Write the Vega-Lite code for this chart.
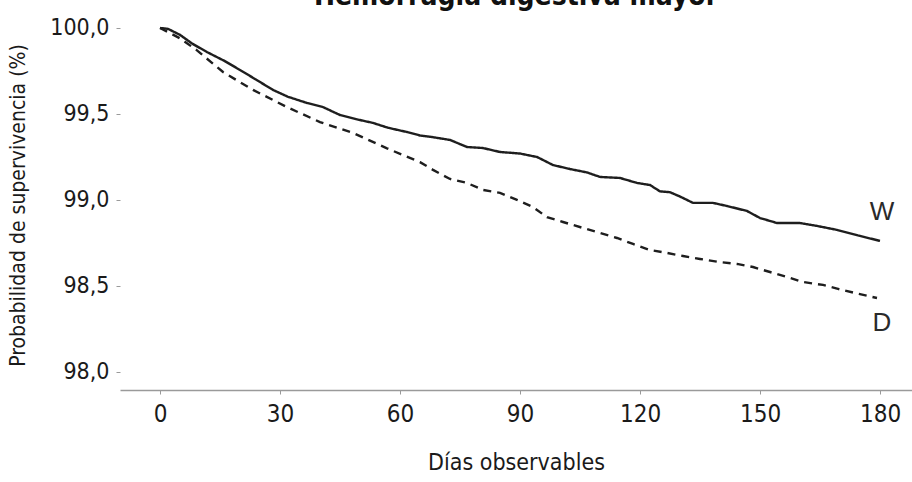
{
  "$schema": "https://vega.github.io/schema/vega-lite/v6.json",
  "width": 792,
  "height": 370,
  "autosize": {"type": "none"},
  "padding": {"left": 120, "top": 20, "right": 0, "bottom": 92},
  "background": "white",
  "title": {
    "text": "Hemorragia digestiva mayor",
    "font": "'Liberation Sans Narrow', 'DejaVu Sans Condensed', 'Roboto Condensed', Roboto, sans-serif",
    "fontSize": 28,
    "fontWeight": "bold",
    "color": "#111",
    "anchor": "middle",
    "frame": "group",
    "baseline": "alphabetic",
    "offset": 6,
    "dy": 22
  },
  "config": {
    "view": {"stroke": null},
    "axis": {"grid": false}
  },
  "datasets": {
    "curvas": [
      {"dia": 0, "prob": 100.0, "serie": "W"},
      {"dia": 2, "prob": 99.995, "serie": "W"},
      {"dia": 5, "prob": 99.96, "serie": "W"},
      {"dia": 8, "prob": 99.91, "serie": "W"},
      {"dia": 11.75, "prob": 99.86, "serie": "W"},
      {"dia": 16, "prob": 99.81, "serie": "W"},
      {"dia": 20, "prob": 99.756, "serie": "W"},
      {"dia": 24, "prob": 99.7, "serie": "W"},
      {"dia": 28.25, "prob": 99.64, "serie": "W"},
      {"dia": 32, "prob": 99.6, "serie": "W"},
      {"dia": 36.75, "prob": 99.564, "serie": "W"},
      {"dia": 40.75, "prob": 99.54, "serie": "W"},
      {"dia": 45, "prob": 99.494, "serie": "W"},
      {"dia": 49, "prob": 99.47, "serie": "W"},
      {"dia": 53.25, "prob": 99.448, "serie": "W"},
      {"dia": 57, "prob": 99.42, "serie": "W"},
      {"dia": 61.75, "prob": 99.395, "serie": "W"},
      {"dia": 65, "prob": 99.375, "serie": "W"},
      {"dia": 68.25, "prob": 99.365, "serie": "W"},
      {"dia": 72.5, "prob": 99.349, "serie": "W"},
      {"dia": 76.75, "prob": 99.308, "serie": "W"},
      {"dia": 80.75, "prob": 99.302, "serie": "W"},
      {"dia": 85, "prob": 99.279, "serie": "W"},
      {"dia": 90, "prob": 99.27, "serie": "W"},
      {"dia": 94.25, "prob": 99.25, "serie": "W"},
      {"dia": 98.25, "prob": 99.203, "serie": "W"},
      {"dia": 102.5, "prob": 99.18, "serie": "W"},
      {"dia": 106.75, "prob": 99.16, "serie": "W"},
      {"dia": 110, "prob": 99.134, "serie": "W"},
      {"dia": 115, "prob": 99.128, "serie": "W"},
      {"dia": 119.25, "prob": 99.099, "serie": "W"},
      {"dia": 122.5, "prob": 99.087, "serie": "W"},
      {"dia": 125, "prob": 99.05, "serie": "W"},
      {"dia": 127.5, "prob": 99.045, "serie": "W"},
      {"dia": 130, "prob": 99.02, "serie": "W"},
      {"dia": 133.25, "prob": 98.983, "serie": "W"},
      {"dia": 138.25, "prob": 98.983, "serie": "W"},
      {"dia": 141.75, "prob": 98.965, "serie": "W"},
      {"dia": 146.75, "prob": 98.936, "serie": "W"},
      {"dia": 150, "prob": 98.895, "serie": "W"},
      {"dia": 154.25, "prob": 98.866, "serie": "W"},
      {"dia": 160, "prob": 98.866, "serie": "W"},
      {"dia": 164.25, "prob": 98.849, "serie": "W"},
      {"dia": 169.25, "prob": 98.826, "serie": "W"},
      {"dia": 175, "prob": 98.791, "serie": "W"},
      {"dia": 180, "prob": 98.762, "serie": "W"},
      {"dia": 0, "prob": 100.0, "serie": "D"},
      {"dia": 5, "prob": 99.94, "serie": "D"},
      {"dia": 9.25, "prob": 99.87, "serie": "D"},
      {"dia": 15.75, "prob": 99.744, "serie": "D"},
      {"dia": 23.25, "prob": 99.64, "serie": "D"},
      {"dia": 31.75, "prob": 99.54, "serie": "D"},
      {"dia": 40, "prob": 99.453, "serie": "D"},
      {"dia": 48.25, "prob": 99.39, "serie": "D"},
      {"dia": 56.75, "prob": 99.3, "serie": "D"},
      {"dia": 65, "prob": 99.22, "serie": "D"},
      {"dia": 68.25, "prob": 99.175, "serie": "D"},
      {"dia": 72.5, "prob": 99.122, "serie": "D"},
      {"dia": 76.75, "prob": 99.099, "serie": "D"},
      {"dia": 80.75, "prob": 99.058, "serie": "D"},
      {"dia": 85, "prob": 99.041, "serie": "D"},
      {"dia": 89.25, "prob": 99.0, "serie": "D"},
      {"dia": 93.25, "prob": 98.959, "serie": "D"},
      {"dia": 96.75, "prob": 98.9, "serie": "D"},
      {"dia": 100.75, "prob": 98.872, "serie": "D"},
      {"dia": 105.75, "prob": 98.837, "serie": "D"},
      {"dia": 110, "prob": 98.808, "serie": "D"},
      {"dia": 114.25, "prob": 98.779, "serie": "D"},
      {"dia": 118.25, "prob": 98.744, "serie": "D"},
      {"dia": 122.5, "prob": 98.709, "serie": "D"},
      {"dia": 126.75, "prob": 98.692, "serie": "D"},
      {"dia": 130.75, "prob": 98.674, "serie": "D"},
      {"dia": 135, "prob": 98.657, "serie": "D"},
      {"dia": 139.5, "prob": 98.64, "serie": "D"},
      {"dia": 144.25, "prob": 98.628, "serie": "D"},
      {"dia": 148.25, "prob": 98.61, "serie": "D"},
      {"dia": 152.5, "prob": 98.581, "serie": "D"},
      {"dia": 156.75, "prob": 98.552, "serie": "D"},
      {"dia": 160.75, "prob": 98.523, "serie": "D"},
      {"dia": 165.75, "prob": 98.506, "serie": "D"},
      {"dia": 169.5, "prob": 98.483, "serie": "D"},
      {"dia": 173.75, "prob": 98.459, "serie": "D"},
      {"dia": 179.25, "prob": 98.43, "serie": "D"}
    ],
    "etiquetas": [
      {"dia": 180.5, "prob": 98.93, "serie": "W"},
      {"dia": 180.5, "prob": 98.285, "serie": "D"}
    ]
  },
  "layer": [
    {
      "data": {"name": "curvas"},
      "mark": {"type": "line", "color": "#1e1e1e", "strokeWidth": 2.4, "interpolate": "linear"},
      "encoding": {
        "x": {
          "field": "dia",
          "type": "quantitative",
          "scale": {"domain": [-10, 188], "nice": false, "zero": false},
          "axis": {
            "title": "Días observables",
            "values": [0, 30, 60, 90, 120, 150, 180],
            "domainColor": "#9a9a9a",
            "domainWidth": 1.5,
            "tickColor": "#9a9a9a",
            "tickSize": 4,
            "labelFont": "'Liberation Sans Narrow', 'DejaVu Sans Condensed', 'Roboto Condensed', Roboto, sans-serif",
            "labelFontSize": 24,
            "labelColor": "#1a1a1a",
            "labelPadding": 8,
            "titleFont": "'Liberation Sans Narrow', 'DejaVu Sans Condensed', 'Roboto Condensed', Roboto, sans-serif",
            "titleFontSize": 23,
            "titleFontWeight": "normal",
            "titleColor": "#1a1a1a",
            "titlePadding": 25
          }
        },
        "y": {
          "field": "prob",
          "type": "quantitative",
          "scale": {"domain": [97.895, 100.0465], "nice": false, "zero": false},
          "axis": {
            "title": "Probabilidad de supervivencia (%)",
            "values": [98, 98.5, 99, 99.5, 100],
            "labelExpr": "replace(format(datum.value, '.1f'), '.', ',')",
            "domain": false,
            "tickColor": "#9a9a9a",
            "tickSize": 4,
            "labelFont": "'Liberation Sans Narrow', 'DejaVu Sans Condensed', 'Roboto Condensed', Roboto, sans-serif",
            "labelFontSize": 23,
            "labelColor": "#1a1a1a",
            "labelPadding": 7,
            "titleFont": "'Liberation Sans Narrow', 'DejaVu Sans Condensed', 'Roboto Condensed', Roboto, sans-serif",
            "titleFontSize": 21,
            "titleFontWeight": "normal",
            "titleColor": "#1a1a1a",
            "titlePadding": 21
          }
        },
        "detail": {"field": "serie"},
        "strokeDash": {
          "field": "serie",
          "type": "nominal",
          "scale": {"domain": ["W", "D"], "range": [[1, 0], [8, 6]]},
          "legend": null
        }
      }
    },
    {
      "data": {"name": "etiquetas"},
      "mark": {"type": "text", "font": "'Liberation Sans', Arial, sans-serif", "fontSize": 26, "color": "#2a2a2a", "align": "center", "baseline": "middle"},
      "encoding": {
        "x": {"field": "dia", "type": "quantitative"},
        "y": {"field": "prob", "type": "quantitative"},
        "text": {"field": "serie"}
      }
    }
  ]
}
